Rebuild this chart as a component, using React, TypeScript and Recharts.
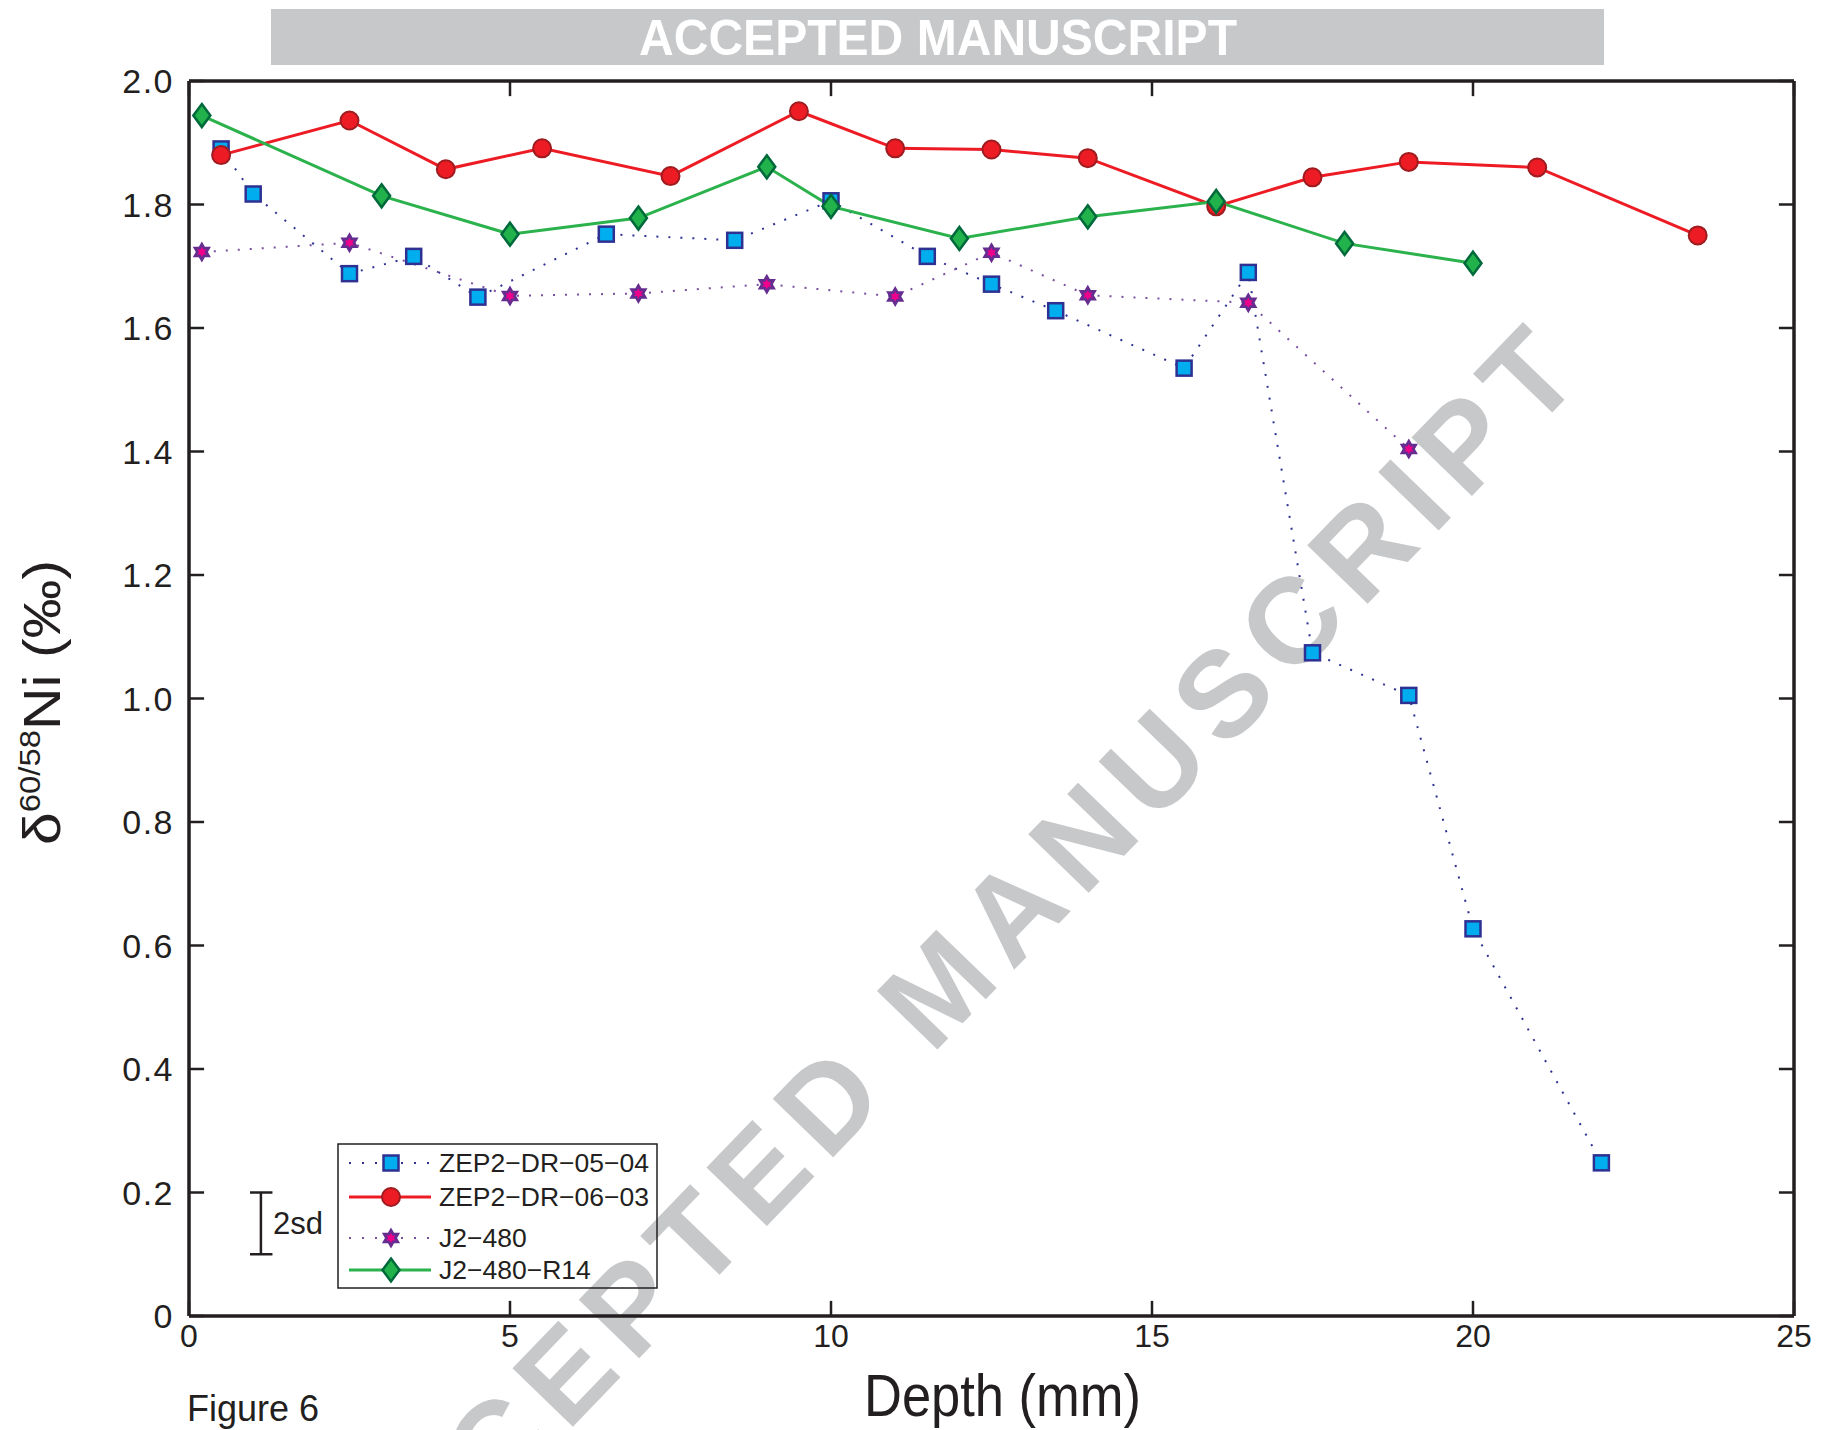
import React from 'react';
import { LineChart, Line, XAxis, YAxis, ReferenceLine } from 'recharts';

// depth (mm) vs delta60/58Ni (permil)
const zep0504Depth = [0.5, 1, 2.5, 3.5, 4.5, 6.5, 8.5, 10, 11.5, 12.5, 13.5, 15.5, 16.5, 17.5, 19, 20, 22];
const zep0504Ni = [1.89, 1.817, 1.688, 1.716, 1.65, 1.752, 1.742, 1.806, 1.716, 1.671, 1.628, 1.535, 1.69, 1.074, 1.005, 0.627, 0.248];

const zep0603Depth = [0.5, 2.5, 4, 5.5, 7.5, 9.5, 11, 12.5, 14, 16, 17.5, 19, 21, 23.5];
const zep0603Ni = [1.88, 1.936, 1.857, 1.891, 1.846, 1.951, 1.891, 1.889, 1.875, 1.797, 1.844, 1.869, 1.86, 1.75];

const j2480Depth = [0.2, 2.5, 5, 7, 9, 11, 12.5, 14, 16.5, 19];
const j2480Ni = [1.723, 1.738, 1.652, 1.656, 1.671, 1.651, 1.722, 1.653, 1.641, 1.404];

const j2480r14Depth = [0.2, 3, 5, 7, 9, 10, 12, 14, 16, 18, 20];
const j2480r14Ni = [1.944, 1.814, 1.752, 1.778, 1.861, 1.797, 1.745, 1.78, 1.805, 1.737, 1.705];

const depthTicks = [0, 5, 10, 15, 20, 25];
const niTicks = [0, 0.2, 0.4, 0.6, 0.8, 1.0, 1.2, 1.4, 1.6, 1.8, 2.0];

const depthDomain: [number, number] = [0, 25];
const niDomain: [number, number] = [0, 2];

// 2sd reproducibility bar
const twoSdDepth = 1.12;
const twoSdCapFrom = 0.95;
const twoSdCapTo = 1.3;
const twoSdLow = 0.1;
const twoSdHigh = 0.2;

// inward tick length, in axis units (about 15px each way)
const depthTickLen = 0.235;
const niTickLen = 0.0245;

const FONT = '"Liberation Sans", Arial, Helvetica, sans-serif';
const INK = '#231f20';
const GREY = '#c7c8ca';

const toPoints = (xs: number[], ys: number[]) => xs.map((d, i) => ({ depth: d, ni: ys[i] }));

const zep0504 = toPoints(zep0504Depth, zep0504Ni);
const zep0603 = toPoints(zep0603Depth, zep0603Ni);
const j2480 = toPoints(j2480Depth, j2480Ni);
const j2480r14 = toPoints(j2480r14Depth, j2480r14Ni);

const hexagram = (cx: number, cy: number, R: number) => {
    const r = R / Math.sqrt(3);
    const pts: string[] = [];
    for (let k = 0; k < 12; k++) {
        const a = ((-90 + k * 30) * Math.PI) / 180;
        const rad = k % 2 === 0 ? R : r;
        pts.push(`${cx + rad * Math.cos(a)},${cy + rad * Math.sin(a)}`);
    }
    return `M${pts.join('L')}Z`;
};

const SquareMark = ({ cx, cy }: any) => (
    <rect x={cx - 7.5} y={cy - 7.5} width={15} height={15} fill="#00aeef" stroke="#2e3192" strokeWidth={2.5} />
);
const CircleMark = ({ cx, cy }: any) => (
    <circle cx={cx} cy={cy} r={9} fill="#ed1c24" stroke="#9e1b20" strokeWidth={2} />
);
const StarMark = ({ cx, cy }: any) => (
    <g>
        <path d={hexagram(cx, cy, 10.5)} fill="#662d91" />
        <path d={hexagram(cx, cy, 5)} fill="#ec008c" />
    </g>
);
const DiamondMark = ({ cx, cy }: any) => (
    <path
        d={`M${cx},${cy - 11.5}L${cx + 8.5},${cy}L${cx},${cy + 11.5}L${cx - 8.5},${cy}Z`}
        fill="#22b24c"
        stroke="#00693c"
        strokeWidth={2.5}
    />
);

const dotOf = (Mark: any) => (p: any) => <Mark key={`m-${p.index}`} cx={p.cx} cy={p.cy} />;

const DepthLabel = (props: any) => {
    const vb = props.viewBox || { x: 189, y: 1316, width: 1605, height: 0 };
    return (
        <text
            x={vb.x + vb.width / 2 + 11}
            y={vb.y + 100}
            textAnchor="middle"
            fontSize={60}
            fontFamily={FONT}
            fill={INK}
            textLength={277}
            lengthAdjust="spacingAndGlyphs"
        >
            Depth (mm)
        </text>
    );
};

const NiLabel = (props: any) => {
    const vb = props.viewBox || { x: 188, y: 81, width: 1, height: 1235 };
    const cx = vb.x + vb.width - 129;
    const cy = vb.y + vb.height / 2 + 4;
    return (
        <text
            x={cx}
            y={cy}
            transform={`rotate(-90, ${cx}, ${cy})`}
            textAnchor="middle"
            fontSize={52}
            fontFamily={FONT}
            fill={INK}
            textLength={285}
            lengthAdjust="spacingAndGlyphs"
        >
            δ
            <tspan fontSize={29} dy={-20}>60/58</tspan>
            <tspan dy={20}>Ni (‰)</tspan>
        </text>
    );
};

const legendRows = [
    { name: 'ZEP2−DR−05−04', y: 1163, stroke: '#2e3192', dash: '2 11', width: 2, Mark: SquareMark },
    { name: 'ZEP2−DR−06−03', y: 1197, stroke: '#ed1c24', dash: undefined, width: 3, Mark: CircleMark },
    { name: 'J2−480', y: 1238, stroke: '#7b4fa0', dash: '2 11', width: 2, Mark: StarMark },
    { name: 'J2−480−R14', y: 1270, stroke: '#2bb24c', dash: undefined, width: 3, Mark: DiamondMark },
];

const Overlay = () => (
    <svg width={1821} height={1430} style={{ position: 'absolute', left: 0, top: 0, zIndex: 2, pointerEvents: 'none' }}>
        <rect x={271} y={9} width={1333} height={56} fill={GREY} />
        <text
            x={938}
            y={55}
            textAnchor="middle"
            fontSize={50}
            fontWeight="bold"
            fontFamily={FONT}
            fill="#ffffff"
            textLength={598}
            lengthAdjust="spacingAndGlyphs"
        >
            ACCEPTED MANUSCRIPT
        </text>

        <rect x={338} y={1144} width={319} height={144} fill="none" stroke={INK} strokeWidth={1.5} />
        {legendRows.map((row) => (
            <g key={row.name}>
                <line x1={349} x2={431} y1={row.y} y2={row.y} stroke={row.stroke} strokeWidth={row.width} strokeDasharray={row.dash} />
                <row.Mark cx={391} cy={row.y} />
                <text x={439} y={row.y + 9} fontSize={26.5} fontFamily={FONT} fill={INK}>
                    {row.name}
                </text>
            </g>
        ))}

        <text x={187} y={1421} fontSize={36} fontFamily={FONT} fill={INK}>
            Figure 6
        </text>
    </svg>
);

const Watermark = () => (
    <div
        style={{
            position: 'absolute',
            left: 944,
            top: 982,
            zIndex: 0,
            transform: 'translate(-50%, -50%) rotate(-46deg)',
            fontFamily: FONT,
            fontWeight: 'bold',
            fontSize: 122,
            letterSpacing: 14,
            lineHeight: 1,
            whiteSpace: 'nowrap',
            color: GREY,
        }}
    >
        ACCEPTED MANUSCRIPT
    </div>
);

const axisLine = { stroke: INK, strokeWidth: 3.5 };

export default function App() {
    return (
        <div style={{ position: 'absolute', left: 0, top: 0, width: 1821, height: 1430, overflow: 'hidden', background: '#ffffff' }}>
            <Watermark />
            <div style={{ position: 'absolute', left: 0, top: 0, zIndex: 1 }}>
                <LineChart width={1821} height={1430} margin={{ top: 80, right: 26, bottom: 113, left: 188 }}>
                    <XAxis
                        dataKey="depth"
                        type="number"
                        domain={depthDomain}
                        ticks={depthTicks}
                        interval={0}
                        allowDataOverflow
                        height={1}
                        axisLine={axisLine}
                        tickLine={false}
                        tickSize={0}
                        tickMargin={8}
                        tick={{ fontSize: 32, fill: INK, fontFamily: FONT }}
                        label={{ content: (p: any) => <DepthLabel {...p} /> }}
                    />
                    <XAxis
                        xAxisId="top"
                        orientation="top"
                        type="number"
                        domain={depthDomain}
                        ticks={depthTicks}
                        height={1}
                        axisLine={axisLine}
                        tickLine={false}
                        tick={false}
                    />
                    <YAxis
                        type="number"
                        domain={niDomain}
                        ticks={niTicks}
                        interval={0}
                        allowDataOverflow
                        width={1}
                        axisLine={axisLine}
                        tickLine={false}
                        tickSize={0}
                        tickMargin={15}
                        tickFormatter={(v: number) => (v === 0 ? '0' : v.toFixed(1))}
                        tick={{ fontSize: 34, fill: INK, fontFamily: FONT, letterSpacing: 1.5 }}
                        label={{ content: (p: any) => <NiLabel {...p} /> }}
                    />
                    <YAxis
                        yAxisId="right"
                        orientation="right"
                        type="number"
                        domain={niDomain}
                        ticks={niTicks}
                        width={1}
                        axisLine={axisLine}
                        tickLine={false}
                        tick={false}
                    />

                    {/* inward tick marks on all four sides of the frame */}
                    {depthTicks.map((t) => (
                        <ReferenceLine
                            key={`tb-${t}`}
                            segment={[{ x: t, y: niDomain[0] }, { x: t, y: niDomain[0] + niTickLen }]}
                            stroke={INK}
                            strokeWidth={2.5}
                            ifOverflow="visible"
                        />
                    ))}
                    {depthTicks.map((t) => (
                        <ReferenceLine
                            key={`tt-${t}`}
                            segment={[{ x: t, y: niDomain[1] }, { x: t, y: niDomain[1] - niTickLen }]}
                            stroke={INK}
                            strokeWidth={2.5}
                            ifOverflow="visible"
                        />
                    ))}
                    {niTicks.map((t) => (
                        <ReferenceLine
                            key={`tl-${t}`}
                            segment={[{ x: depthDomain[0], y: t }, { x: depthDomain[0] + depthTickLen, y: t }]}
                            stroke={INK}
                            strokeWidth={2.5}
                            ifOverflow="visible"
                        />
                    ))}
                    {niTicks.map((t) => (
                        <ReferenceLine
                            key={`tr-${t}`}
                            segment={[{ x: depthDomain[1], y: t }, { x: depthDomain[1] - depthTickLen, y: t }]}
                            stroke={INK}
                            strokeWidth={2.5}
                            ifOverflow="visible"
                        />
                    ))}

                    <ReferenceLine
                        segment={[{ x: twoSdDepth, y: twoSdLow }, { x: twoSdDepth, y: twoSdHigh }]}
                        stroke={INK}
                        strokeWidth={2.5}
                        label={{ value: '2sd', position: 'right', offset: 12, fontSize: 31, fill: INK, fontFamily: FONT }}
                    />
                    <ReferenceLine
                        segment={[{ x: twoSdCapFrom, y: twoSdLow }, { x: twoSdCapTo, y: twoSdLow }]}
                        stroke={INK}
                        strokeWidth={2.5}
                    />
                    <ReferenceLine
                        segment={[{ x: twoSdCapFrom, y: twoSdHigh }, { x: twoSdCapTo, y: twoSdHigh }]}
                        stroke={INK}
                        strokeWidth={2.5}
                    />

                    <Line
                        data={zep0504}
                        dataKey="ni"
                        name="ZEP2-DR-05-04"
                        type="linear"
                        stroke="#2e3192"
                        strokeWidth={2}
                        strokeDasharray="2 10"
                        dot={dotOf(SquareMark)}
                        activeDot={false}
                        isAnimationActive={false}
                    />
                    <Line
                        data={zep0603}
                        dataKey="ni"
                        name="ZEP2-DR-06-03"
                        type="linear"
                        stroke="#ed1c24"
                        strokeWidth={3}
                        dot={dotOf(CircleMark)}
                        activeDot={false}
                        isAnimationActive={false}
                    />
                    <Line
                        data={j2480}
                        dataKey="ni"
                        name="J2-480"
                        type="linear"
                        stroke="#7b4fa0"
                        strokeWidth={2}
                        strokeDasharray="2 10"
                        dot={dotOf(StarMark)}
                        activeDot={false}
                        isAnimationActive={false}
                    />
                    <Line
                        data={j2480r14}
                        dataKey="ni"
                        name="J2-480-R14"
                        type="linear"
                        stroke="#2bb24c"
                        strokeWidth={3}
                        dot={dotOf(DiamondMark)}
                        activeDot={false}
                        isAnimationActive={false}
                    />
                </LineChart>
            </div>
            <Overlay />
        </div>
    );
}
